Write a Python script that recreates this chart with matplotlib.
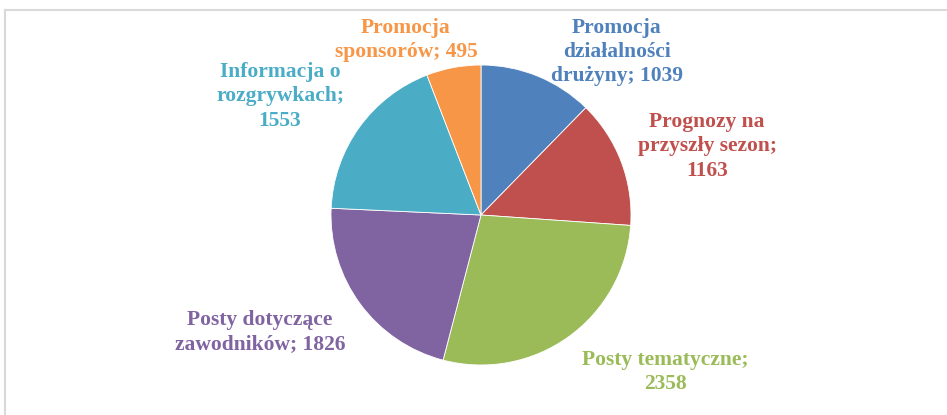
import matplotlib.pyplot as plt
from matplotlib.lines import Line2D

# data
labels = ["Promocja\ndziałalności\ndrużyny", "Prognozy na\nprzyszły sezon;\n", "Posty tematyczne;\n",
          "Posty dotyczące\nzawodników", "Informacja o\nrozgrywkach;\n", "Promocja\nsponsorów"]
values = [1039, 1163, 2358, 1826, 1553, 495]
colors = ["#4F81BD", "#C0504D", "#9BBB59", "#8064A2", "#4BACC6", "#F79646"]
# label centres in pixels (x, y from top)
label_pos = [(617, 52), (707, 146), (665, 372), (260, 332), (280, 96), (406, 40)]

W, H = 947, 415
fig = plt.figure(figsize=(W / 100, H / 100), dpi=100)
plt.rcParams['font.family'] = ['Liberation Serif', 'DejaVu Serif']

# pie centre (481, 215), radius 150 px
cx, cy, r = 481, 215, 150
ax = fig.add_axes([(cx - r) / W, (H - cy - r) / H, 2 * r / W, 2 * r / H])
ax.pie(values, colors=colors, startangle=90, counterclock=False, radius=1,
       wedgeprops=dict(linewidth=0.6, edgecolor="white"))
ax.set_xlim(-1, 1)
ax.set_ylim(-1, 1)
ax.set_aspect("equal")
ax.axis("off")

for lab, val, col, (px, py) in zip(labels, values, colors, label_pos):
    if lab.endswith("\n"):
        txt = lab + str(val)
    else:
        txt = lab + "; " + str(val)
    fig.text(px / W, 1 - py / H, txt, color=col, fontsize=15.5, fontweight="bold",
             ha="center", va="center", linespacing=1.3)

# chart frame (top and left edge)
fig.add_artist(Line2D([5 / W, 1], [1 - 10 / H, 1 - 10 / H], transform=fig.transFigure,
                      color="#d9d9d9", linewidth=1.5))
fig.add_artist(Line2D([5 / W, 5 / W], [0, 1 - 10 / H], transform=fig.transFigure,
                      color="#d9d9d9", linewidth=1.5))

fig.savefig("out.png", dpi=100)
